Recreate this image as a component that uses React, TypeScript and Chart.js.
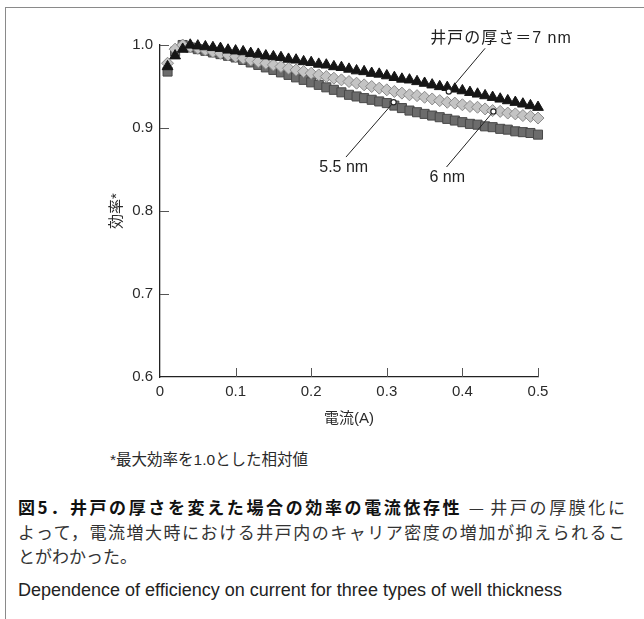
import React, { useEffect, useRef } from "react";
import { Chart, registerables } from "chart.js";

Chart.register(...registerables);

// ---- data ----
const currents = [
  0.01, 0.02, 0.03, 0.04, 0.05, 0.06, 0.07, 0.08, 0.09, 0.10,
  0.11, 0.12, 0.13, 0.14, 0.15, 0.16, 0.17, 0.18, 0.19, 0.20,
  0.21, 0.22, 0.23, 0.24, 0.25, 0.26, 0.27, 0.28, 0.29, 0.30,
  0.31, 0.32, 0.33, 0.34, 0.35, 0.36, 0.37, 0.38, 0.39, 0.40,
  0.41, 0.42, 0.43, 0.44, 0.45, 0.46, 0.47, 0.48, 0.49, 0.50,
];

const eff7nm = [
  0.974, 0.987, 0.995, 1.000, 0.999, 0.998, 0.997, 0.996, 0.994, 0.993,
  0.992, 0.990, 0.989, 0.987, 0.986, 0.985, 0.983, 0.982, 0.980, 0.979,
  0.977, 0.976, 0.974, 0.973, 0.971, 0.969, 0.968, 0.966, 0.965, 0.963,
  0.961, 0.959, 0.958, 0.956, 0.954, 0.952, 0.950, 0.949, 0.947, 0.945,
  0.943, 0.941, 0.939, 0.937, 0.935, 0.933, 0.931, 0.929, 0.927, 0.925,
];

const eff6nm = [
  0.978, 0.995, 1.000, 0.998, 0.996, 0.994, 0.992, 0.990, 0.988, 0.986,
  0.984, 0.982, 0.980, 0.978, 0.976, 0.974, 0.972, 0.970, 0.968, 0.966,
  0.964, 0.962, 0.960, 0.958, 0.956, 0.954, 0.952, 0.950, 0.948, 0.946,
  0.944, 0.942, 0.940, 0.939, 0.937, 0.935, 0.933, 0.931, 0.930, 0.928,
  0.926, 0.925, 0.923, 0.921, 0.920, 0.918, 0.917, 0.915, 0.914, 0.912,
];

const eff55nm = [
  0.968, 0.992, 1.000, 0.997, 0.995, 0.993, 0.991, 0.989, 0.987, 0.985,
  0.982, 0.979, 0.976, 0.973, 0.970, 0.967, 0.964, 0.961, 0.958, 0.955,
  0.952, 0.949, 0.946, 0.943, 0.940, 0.938, 0.936, 0.934, 0.932, 0.930,
  0.927, 0.924, 0.921, 0.919, 0.917, 0.915, 0.913, 0.911, 0.909, 0.907,
  0.905, 0.904, 0.902, 0.901, 0.899, 0.898, 0.896, 0.895, 0.894, 0.892,
];

const xTickValues = [0, 0.1, 0.2, 0.3, 0.4, 0.5];
const yTickValues = [0.6, 0.7, 0.8, 0.9, 1.0];

const seriesLabels = ["7 nm", "6 nm", "5.5 nm"];
const annotationTexts = ["井戸の厚さ＝7 nm", "6 nm", "5.5 nm"];
// leader line: data point end (circle), free end, text centre (data coords)
const annotationTargets = [
  [0.382, 0.944],
  [0.441, 0.920],
  [0.309, 0.931],
];
const annotationStarts = [
  [0.430, 0.996],
  [0.379, 0.853],
  [0.246, 0.865],
];
const annotationTextAt = [
  [0.451, 1.008],
  [0.380, 0.840],
  [0.243, 0.852],
];

const xAxisTitle = "電流(A)";
const yAxisTitle = "効率*";
const footnote = "*最大効率を1.0とした相対値";
const captionBold = "図5．井戸の厚さを変えた場合の効率の電流依存性";
const captionLine1Rest = " — 井戸の厚膜化に";
const captionLine2 = "よって，電流増大時における井戸内のキャリア密度の増加が抑えられるこ";
const captionLine3 = "とがわかった。";
const captionEnglish = "Dependence of efficiency on current for three types of well thickness";

const FONT = '"Liberation Sans", Arial, "Noto Sans CJK JP", sans-serif';

const toPoints = (ys: number[]) => currents.map((x, i) => ({ x, y: ys[i] }));

const overlayPlugin = {
  id: "overlay",
  beforeDatasetsDraw(chart: any) {
    const { ctx, chartArea, scales } = chart;
    const xs = scales.x;
    const ys = scales.y;
    ctx.save();
    ctx.strokeStyle = "#555";
    ctx.lineWidth = 1;
    ctx.beginPath();
    yTickValues.forEach((v) => {
      if (v === yTickValues[0]) return;
      const py = Math.round(ys.getPixelForValue(v)) + 0.5;
      ctx.moveTo(chartArea.left, py);
      ctx.lineTo(chartArea.left + 9, py);
    });
    xTickValues.forEach((v) => {
      if (v === xTickValues[0]) return;
      const px = Math.round(xs.getPixelForValue(v)) + 0.5;
      ctx.moveTo(px, chartArea.bottom);
      ctx.lineTo(px, chartArea.bottom - 9);
    });
    ctx.stroke();
    ctx.restore();
  },
  afterDatasetsDraw(chart: any) {
    const { ctx, scales } = chart;
    const xs = scales.x;
    const ys = scales.y;
    ctx.save();
    annotationTexts.forEach((txt, i) => {
      const tx = xs.getPixelForValue(annotationTargets[i][0]);
      const ty = ys.getPixelForValue(annotationTargets[i][1]);
      const sx = xs.getPixelForValue(annotationStarts[i][0]);
      const sy = ys.getPixelForValue(annotationStarts[i][1]);
      ctx.strokeStyle = "#222";
      ctx.lineWidth = 1;
      ctx.beginPath();
      ctx.moveTo(sx, sy);
      ctx.lineTo(tx, ty);
      ctx.stroke();
      ctx.beginPath();
      ctx.arc(tx, ty, 2.6, 0, Math.PI * 2);
      ctx.fillStyle = "#ffffff";
      ctx.fill();
      ctx.lineWidth = 1.2;
      ctx.stroke();
      ctx.fillStyle = "#222";
      ctx.font = `16px ${FONT}`;
      ctx.textAlign = "center";
      ctx.textBaseline = "middle";
      if (i === 0 && "letterSpacing" in ctx) (ctx as any).letterSpacing = "1px";
      ctx.fillText(
        txt,
        xs.getPixelForValue(annotationTextAt[i][0]),
        ys.getPixelForValue(annotationTextAt[i][1])
      );
      if ("letterSpacing" in ctx) (ctx as any).letterSpacing = "0px";
    });
    ctx.restore();
  },
};

function EfficiencyChart() {
  const ref = useRef<HTMLCanvasElement | null>(null);
  useEffect(() => {
    if (!ref.current) return;
    const chart = new Chart(ref.current, {
      type: "scatter",
      data: {
        datasets: [
          {
            label: seriesLabels[0],
            data: toPoints(eff7nm),
            pointStyle: "triangle",
            pointRadius: 6.2,
            backgroundColor: "#151515",
            borderColor: "#151515",
            borderWidth: 1,
            clip: false,
          },
          {
            label: seriesLabels[1],
            data: toPoints(eff6nm),
            pointStyle: "rectRot",
            pointRadius: 6,
            backgroundColor: "#c4c4c4",
            borderColor: "#8a8a8a",
            borderWidth: 1,
            clip: false,
          },
          {
            label: seriesLabels[2],
            data: toPoints(eff55nm),
            pointStyle: "rect",
            pointRadius: 6.4,
            backgroundColor: "#6c6c6c",
            borderColor: "#484848",
            borderWidth: 1,
            clip: false,
          },
        ],
      },
      options: {
        animation: false,
        responsive: false,
        maintainAspectRatio: false,
        devicePixelRatio: 1,
        layout: { padding: { left: 0, top: 45, right: 106, bottom: 0 } },
        plugins: { legend: { display: false }, tooltip: { enabled: false } },
        scales: {
          x: {
            type: "linear",
            position: "bottom",
            min: 0,
            max: 0.5,
            afterFit: (s: any) => {
              s.height = 63;
            },
            afterBuildTicks: (s: any) => {
              s.ticks = xTickValues.map((v) => ({ value: v }));
            },
            ticks: {
              padding: 6,
              color: "#2a2a2a",
              font: { family: FONT, size: 15 },
              maxRotation: 0,
              callback: (v: any) => (Number(v) === 0 ? "0" : Number(v).toFixed(1)),
            },
            grid: { display: false, drawTicks: false },
            border: { display: true, color: "#222", width: 1.3 },
            title: {
              display: true,
              text: xAxisTitle,
              color: "#2a2a2a",
              font: { family: FONT, size: 15 },
              padding: { top: 0, bottom: 12 },
            },
          },
          y: {
            type: "linear",
            position: "left",
            min: 0.6,
            max: 1.0,
            afterFit: (s: any) => {
              s.width = 160;
            },
            afterBuildTicks: (s: any) => {
              s.ticks = yTickValues.map((v) => ({ value: v }));
            },
            ticks: {
              padding: 7,
              color: "#2a2a2a",
              font: { family: FONT, size: 15 },
              callback: (v: any) => Number(v).toFixed(1),
            },
            grid: { display: false, drawTicks: false },
            border: { display: true, color: "#222", width: 1.3 },
            title: {
              display: true,
              text: yAxisTitle,
              color: "#2a2a2a",
              font: { family: FONT, size: 15 },
              padding: { top: 108, bottom: 0 },
            },
          },
        },
      },
      plugins: [overlayPlugin],
    } as any);
    return () => chart.destroy();
  }, []);
  return (
    <canvas
      ref={ref}
      width={644}
      height={440}
      style={{ position: "absolute", left: 0, top: 0, width: 644, height: 440 }}
    />
  );
}

export default function App() {
  const justify: React.CSSProperties = { textAlign: "justify", textAlignLast: "justify", whiteSpace: "nowrap" };
  return (
    <div
      style={{
        position: "fixed",
        left: 0,
        top: 0,
        width: 644,
        height: 619,
        background: "#ffffff",
        overflow: "hidden",
      }}
    >
      <div style={{ position: "absolute", left: 5, top: 7, width: 639, height: 0, borderTop: "1.5px solid #8a8a8a" }} />
      <div style={{ position: "absolute", left: 5, top: 7, width: 0, height: 612, borderLeft: "1.5px solid #8a8a8a" }} />
      <EfficiencyChart />
      <div
        style={{
          position: "absolute",
          left: 110,
          top: 450,
          fontFamily: FONT,
          fontSize: 15.5,
          lineHeight: "19px",
          color: "#2a2a2a",
          whiteSpace: "nowrap",
        }}
      >
        {footnote}
      </div>
      <div
        style={{
          position: "absolute",
          left: 18,
          top: 495,
          width: 607,
          fontFamily: '"Noto Sans CJK JP", sans-serif',
          fontSize: 17,
          lineHeight: "24.5px",
          color: "#333",
        }}
      >
        <div style={justify}>
          <span style={{ fontWeight: 700, color: "#111" }}>{captionBold}</span>
          {captionLine1Rest}
        </div>
        <div style={justify}>{captionLine2}</div>
        <div style={{ whiteSpace: "nowrap" }}>{captionLine3}</div>
      </div>
      <div
        style={{
          position: "absolute",
          left: 18,
          top: 580,
          fontFamily: FONT,
          fontSize: 18,
          lineHeight: "21px",
          color: "#222",
          whiteSpace: "nowrap",
        }}
      >
        {captionEnglish}
      </div>
    </div>
  );
}
